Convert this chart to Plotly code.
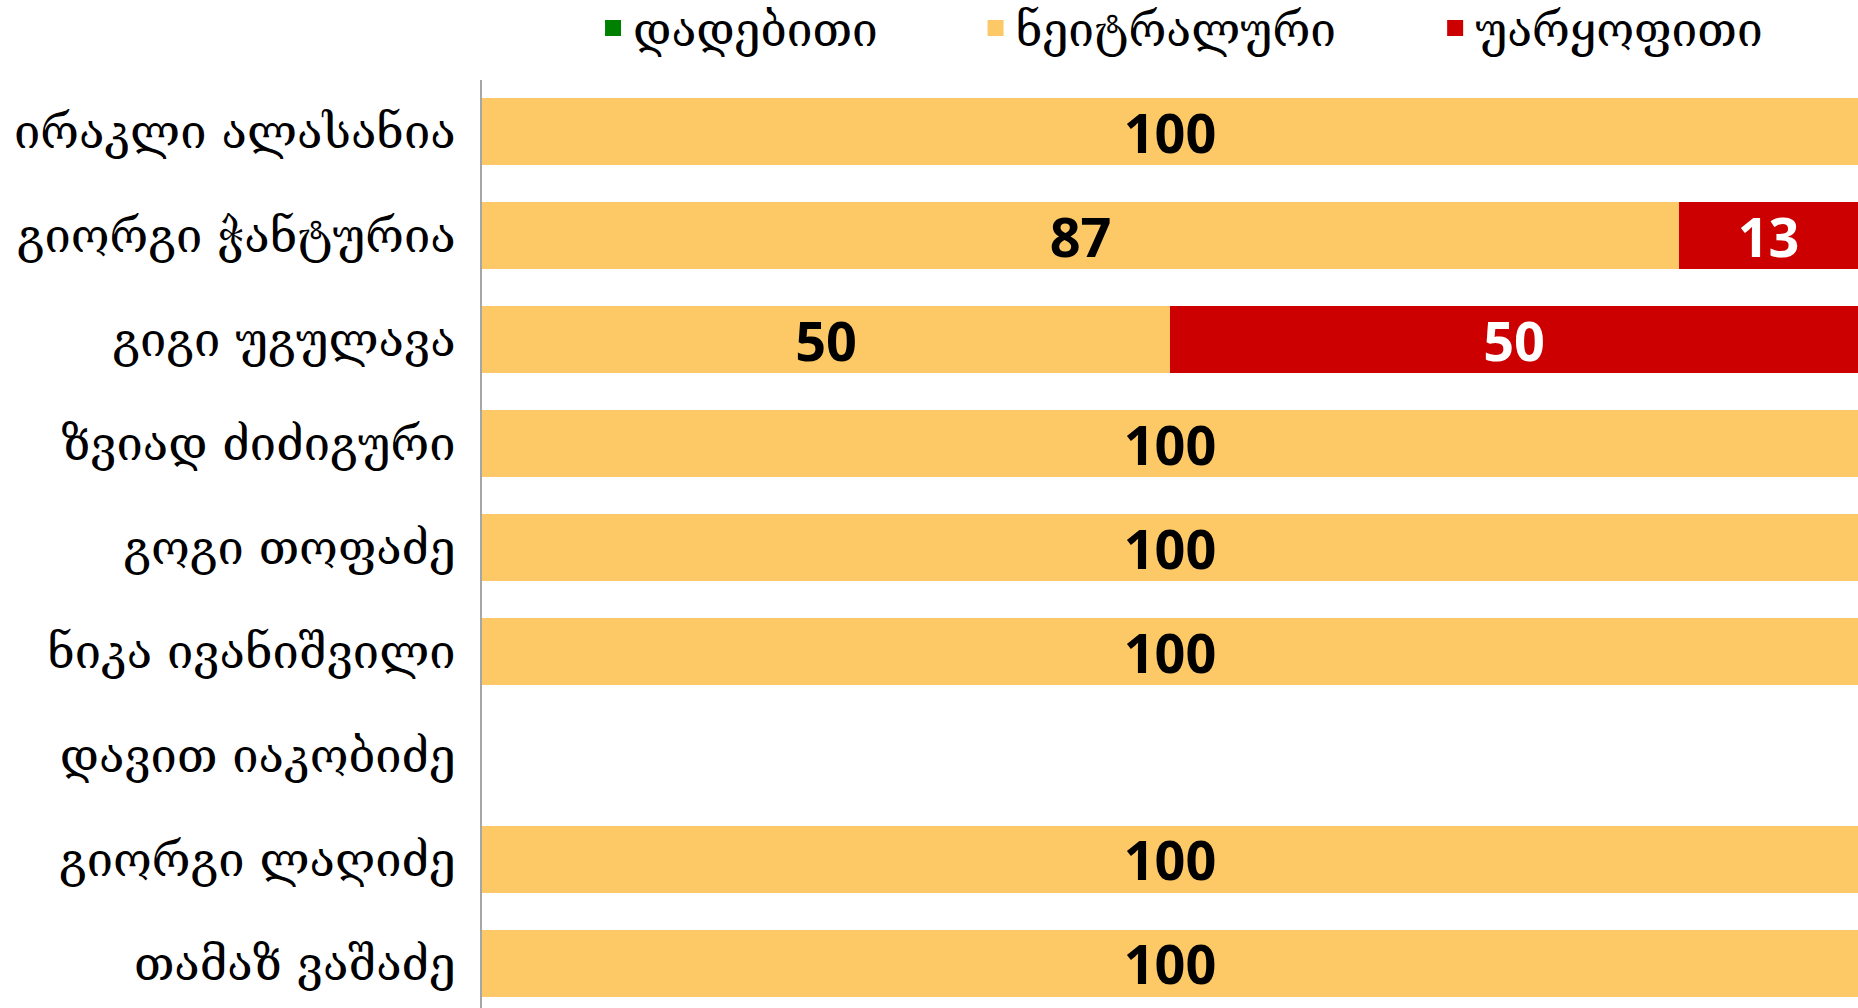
import plotly.graph_objects as go

names = ["ირაკლი ალასანია", "გიორგი ჭანტურია", "გიგი უგულავა", "ზვიად ძიძიგური",
         "გოგი თოფაძე", "ნიკა ივანიშვილი", "დავით იაკობიძე", "გიორგი ლაღიძე", "თამაზ ვაშაძე"]
positive = [0, 0, 0, 0, 0, 0, 0, 0, 0]
neutral = [100, 87, 50, 100, 100, 100, 0, 100, 100]
negative = [0, 13, 50, 0, 0, 0, 0, 0, 0]

series_names = ["დადებითი", "ნეიტრალური", "უარყოფითი"]
colors = ["#008000", "#FDC966", "#CC0000"]
text_colors = ["white", "black", "white"]
series = [positive, neutral, negative]
legend_ids = ["legend", "legend2", "legend3"]

GEO_FONT = "DejaVu Serif, DejaVu Sans"
LABEL_FONT = "Open Sans"

fig = go.Figure()
for vals, nm, col, tc, lg in zip(series, series_names, colors, text_colors, legend_ids):
    fig.add_trace(go.Bar(
        y=names, x=vals, orientation="h", name=nm,
        marker=dict(color=col, line=dict(width=0)),
        text=[str(v) if v else "" for v in vals],
        textposition="inside", insidetextanchor="middle",
        textfont=dict(family=LABEL_FONT, size=54, color=tc, weight="bold"),
        textangle=0, constraintext="none",
        showlegend=False, legend=lg,
    ))
    # legend marker
    fig.add_trace(go.Scatter(
        x=[None], y=[None], mode="markers", name=nm, legend=lg,
        marker=dict(symbol="square", size=19, color=col),
        showlegend=True,
    ))

legend_common = dict(orientation="h", yanchor="middle", xanchor="left",
                     font=dict(family=GEO_FONT, size=46, color="black"),
                     bgcolor="rgba(0,0,0,0)", itemsizing="trace")
fig.update_layout(
    width=1858, height=1008,
    margin=dict(l=482, r=0, t=80, b=0, autoexpand=False),
    paper_bgcolor="white", plot_bgcolor="white",
    barmode="stack", bargap=0.355,
    uniformtext=dict(mode=False),
    legend=dict(x=0.0807, y=1.056, **legend_common),
    legend2=dict(x=0.3587, y=1.056, **legend_common),
    legend3=dict(x=0.6927, y=1.056, **legend_common),
    xaxis=dict(range=[0, 100], showgrid=False, zeroline=False, showticklabels=False,
               showline=False, fixedrange=True),
    yaxis=dict(range=[8.43, -0.5], autorange=False, showgrid=False, zeroline=False,
               showline=True, linecolor="#A6A6A6", linewidth=2,
               ticks="", ticklabelstandoff=15,
               tickfont=dict(family=GEO_FONT, size=47, color="black")),
)
fig.write_html(
    "out.html",
    config={"displayModeBar": False},
    post_script="document.body.style.margin='0';document.body.style.overflow='hidden';",
)
